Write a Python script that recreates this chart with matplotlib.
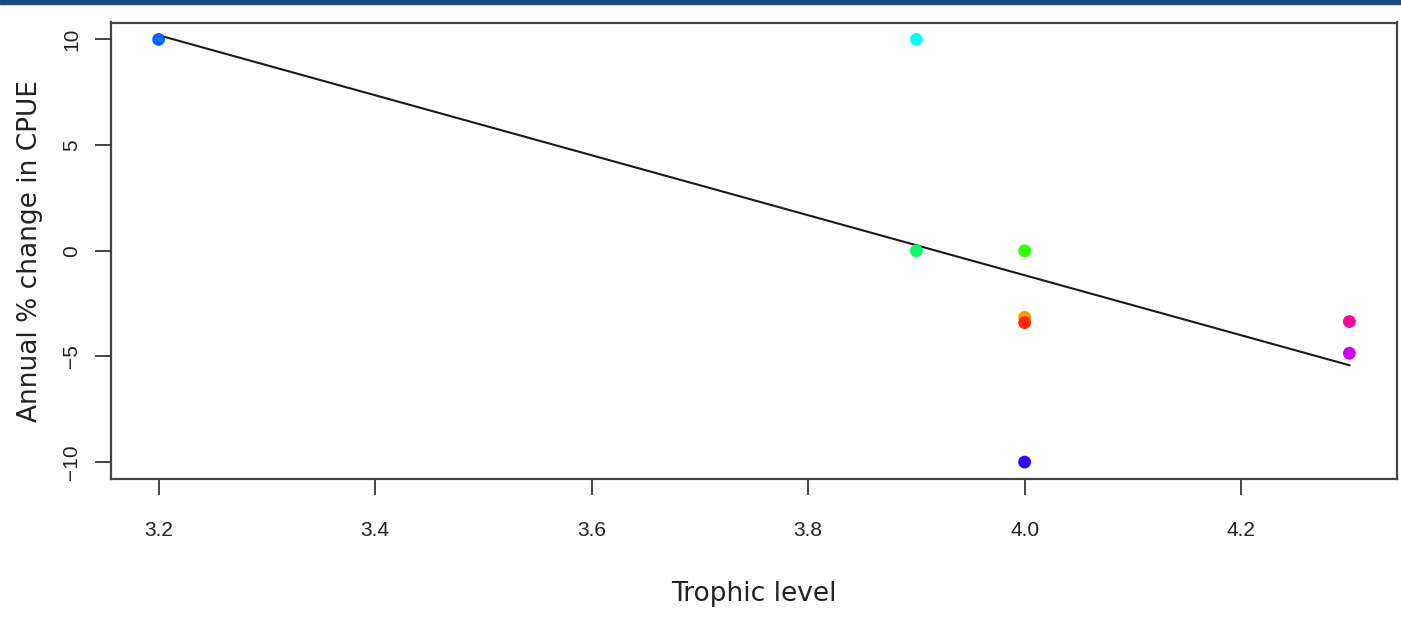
import numpy as np
import matplotlib.pyplot as plt
from matplotlib.patches import Rectangle

# trophic level vs annual % change in CPUE, one point per species
trophic = [3.2, 3.9, 3.9, 4.0, 4.0, 4.0, 4.0, 4.3, 4.3]
cpue_change = [10, 10, 0, 0, -3.15, -3.4, -10, -3.35, -4.85]
colours = ['#0066FF', '#00FFFF', '#00FF66', '#33FF00', '#FF9900',
           '#FF2A00', '#3300FF', '#FF0099', '#CC00FF']

xticks = [3.2, 3.4, 3.6, 3.8, 4.0, 4.2]
yticks = [-10, -5, 0, 5, 10]

fig = plt.figure(figsize=(14.01, 6.37), dpi=100)
ax = fig.add_axes([111 / 1401, 1 - 479 / 637, (1397 - 111) / 1401, (479 - 22.5) / 637])

# header strip
fig.patches.append(Rectangle((0, 1 - 4 / 637), 1, 4 / 637, transform=fig.transFigure,
                             color='#1c4a7a', zorder=5))

ax.scatter(trophic, cpue_change, c=colours, s=85, edgecolors='none', zorder=3)

# least-squares fit over the data range
slope, intercept = np.polyfit(trophic, cpue_change, 1)
xs = np.array([min(trophic), max(trophic)])
ax.plot(xs, intercept + slope * xs, color='#1a1a1a', lw=1.5, zorder=2)

ax.set_xlim(3.2 - 0.044, 4.3 + 0.044)
ax.set_ylim(-10.8, 10.8)
ax.set_xticks(xticks)
ax.set_xticklabels([f'{t:.1f}' for t in xticks], fontsize=15, family='Liberation Sans', color='#222222')
ax.set_yticks(yticks)
ax.set_yticklabels([str(t).replace('-', '\u2212') for t in yticks], fontsize=15,
                   family='Liberation Sans', color='#222222', rotation=90, va='center')
ax.tick_params(length=11.5, width=1.4, color='#444444')
ax.tick_params(axis='x', pad=19)
ax.tick_params(axis='y', pad=10)
for s in ax.spines.values():
    s.set_linewidth(1.6)
    s.set_color('#444444')

ax.set_xlabel('Trophic level', fontsize=19, labelpad=29, color='#222222')
ax.set_ylabel('Annual % change in CPUE', fontsize=19, labelpad=14, color='#222222')

fig.savefig('out.png', dpi=100, facecolor='white')
